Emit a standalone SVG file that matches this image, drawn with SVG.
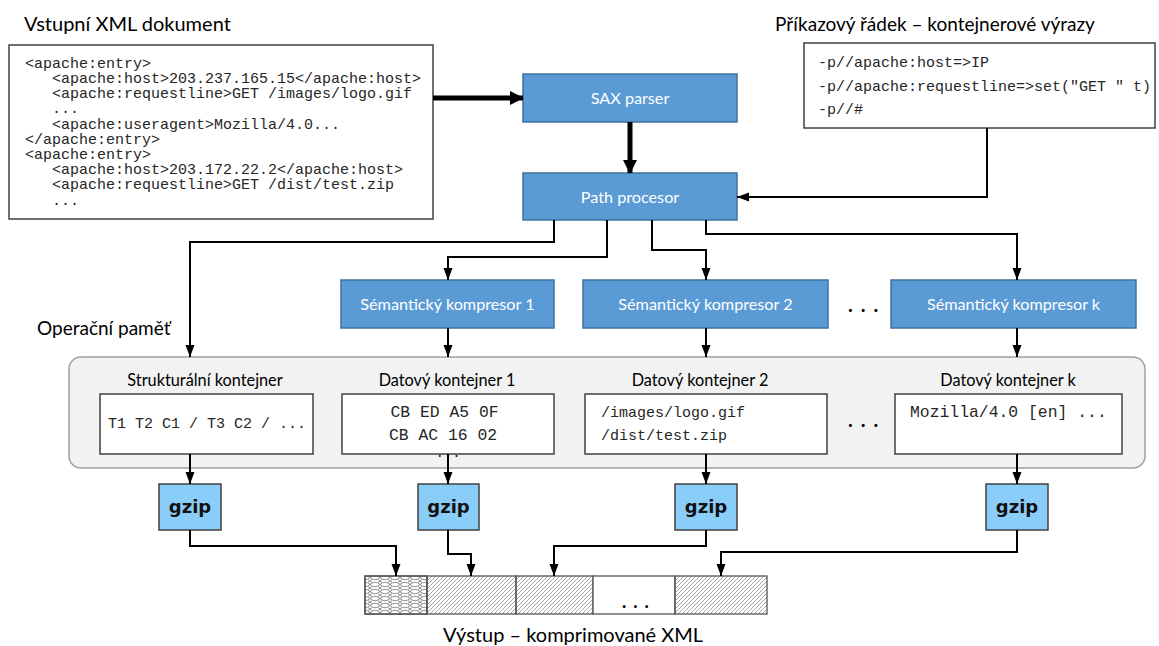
<svg xmlns="http://www.w3.org/2000/svg" width="1159" height="646" viewBox="0 0 1159 646">
<style>
.title{font-family:Lato,"Open Sans",sans-serif;font-size:20px;fill:#000}
.lbl{font-family:Lato,"Open Sans",sans-serif;font-size:16.3px;fill:#000}
.blue rect{fill:#5B9BD5;stroke:#41719C;stroke-width:1.5}
.blue text{font-family:Lato,"Open Sans",sans-serif;font-size:16.2px;fill:#fff;text-anchor:middle}
.mono{font-family:"Liberation Mono","Courier New",monospace;font-size:15px;fill:#262626;white-space:pre}
.box{fill:#fff;stroke:#404040;stroke-width:1.5}
.gz rect{fill:#8ACDF8;stroke:#404040;stroke-width:1.5}
.gz text{font-family:"DejaVu Sans",Verdana,sans-serif;font-weight:bold;font-size:18px;fill:#111;text-anchor:middle}
.c{fill:none;stroke:#000;stroke-width:2}
.ck{fill:none;stroke:#000;stroke-width:5}
.dots{font-family:Lato,sans-serif;font-weight:bold;font-size:20px;fill:#000;letter-spacing:8px}
.cell{stroke:#555;stroke-width:1.3}
</style>
<defs>
<marker id="a" markerUnits="userSpaceOnUse" markerWidth="12" markerHeight="10" refX="12" refY="5" orient="auto">
<path d="M0,0.5 L12,5 L0,9.5 Z" fill="#000"/>
</marker>
<marker id="ak" markerUnits="userSpaceOnUse" markerWidth="14" markerHeight="14" refX="13" refY="7" orient="auto">
<path d="M0,0 L14,7 L0,14 Z" fill="#000"/>
</marker>
<pattern id="hatch" patternUnits="userSpaceOnUse" width="4" height="4">
<path d="M-1,1 l2,-2 M0,4 l4,-4 M3,5 l2,-2" stroke="#808080" stroke-width="0.7"/>
</pattern>
<pattern id="chain" patternUnits="userSpaceOnUse" width="10" height="7">
<path d="M0,3.5 Q5,-1 10,3.5 Q5,8 0,3.5 Z M0,0 L2,1.5 M10,0 L8,1.5 M0,7 L2,5.5 M10,7 L8,5.5" fill="none" stroke="#606060" stroke-width="0.7"/>
</pattern>
</defs>
<rect width="1159" height="646" fill="#fff"/>

<g id="input-xml">
<text class="title" x="24" y="31">Vstupní XML dokument</text>
<rect x="9" y="45" width="424" height="174" fill="#fff" stroke="#404040" stroke-width="1.5"/>
<text class="mono" x="25" y="68">&lt;apache:entry&gt;</text>
<text class="mono" x="25" y="83">   &lt;apache:host&gt;203.237.165.15&lt;/apache:host&gt;</text>
<text class="mono" x="25" y="98">   &lt;apache:requestline&gt;GET /images/logo.gif</text>
<text class="mono" x="25" y="113">   ...</text>
<text class="mono" x="25" y="129">   &lt;apache:useragent&gt;Mozilla/4.0...</text>
<text class="mono" x="25" y="144">&lt;/apache:entry&gt;</text>
<text class="mono" x="25" y="159">&lt;apache:entry&gt;</text>
<text class="mono" x="25" y="174">   &lt;apache:host&gt;203.172.22.2&lt;/apache:host&gt;</text>
<text class="mono" x="25" y="189">   &lt;apache:requestline&gt;GET /dist/test.zip</text>
<text class="mono" x="25" y="205">   ...</text>
</g>

<g id="cmdline">
<text class="title" x="775" y="31" style="font-size:19px">Příkazový řádek – kontejnerové výrazy</text>
<rect x="804" y="43" width="351" height="85" fill="#fff" stroke="#404040" stroke-width="1.5"/>
<text class="mono" x="818" y="67">-p//apache:host=&gt;IP</text>
<text class="mono" x="818" y="91">-p//apache:requestline=&gt;set("GET " t)</text>
<text class="mono" x="818" y="114">-p//#</text>
</g>

<g id="sax" class="blue">
<rect x="523" y="74" width="214" height="48"/>
<text x="630" y="104">SAX parser</text>
</g>
<g id="path" class="blue">
<rect x="523" y="173" width="214" height="47"/>
<text x="630" y="203">Path procesor</text>
</g>

<g id="sem1" class="blue">
<rect x="341" y="280" width="213" height="48"/>
<text x="447.5" y="310">Sémantický kompresor 1</text>
</g>
<g id="sem2" class="blue">
<rect x="583" y="280" width="245" height="48"/>
<text x="705.5" y="310">Sémantický kompresor 2</text>
</g>
<g id="semdots"><text class="dots" x="848" y="312">...</text></g>
<g id="semk" class="blue">
<rect x="891" y="280" width="245" height="48"/>
<text x="1013.5" y="310">Sémantický kompresor k</text>
</g>

<g id="memory">
<text class="title" x="37" y="335" style="font-size:19px">Operační paměť</text>
<rect x="69" y="357" width="1076" height="111" rx="12" fill="#F2F2F2" stroke="#A0A0A0" stroke-width="1.5"/>
</g>
<g id="struct">
<text class="lbl" x="205" y="386" text-anchor="middle">Strukturální kontejner</text>
<rect class="box" x="100" y="394" width="213" height="60"/>
<text class="mono" x="108" y="428">T1 T2 C1 / T3 C2 / ...</text>
</g>
<g id="dk1">
<text class="lbl" x="447" y="386" text-anchor="middle">Datový kontejner 1</text>
<rect class="box" x="342" y="394" width="212" height="60"/>
<text class="mono" x="444.5" y="417" text-anchor="middle" style="font-size:16.4px">CB ED A5 0F</text>
<text class="mono" x="443" y="440" text-anchor="middle" style="font-size:16.4px">CB AC 16 02</text>
<text class="mono" x="448" y="457" text-anchor="middle" style="font-size:14px">...</text>
</g>
<g id="dk2">
<text class="lbl" x="700" y="386" text-anchor="middle">Datový kontejner 2</text>
<rect class="box" x="585" y="394" width="242" height="60"/>
<text class="mono" x="601" y="417">/images/logo.gif</text>
<text class="mono" x="601" y="440">/dist/test.zip</text>
</g>
<g id="dkdots"><text class="dots" x="848" y="427">...</text></g>
<g id="dkk">
<text class="lbl" x="1008" y="386" text-anchor="middle">Datový kontejner k</text>
<rect class="box" x="895" y="394" width="227" height="60"/>
<text class="mono" x="910" y="417" style="font-size:16.4px">Mozilla/4.0 [en] ...</text>
</g>

<g id="gzip1" class="gz"><rect x="159" y="484" width="62" height="46"/><text x="190" y="513">gzip</text></g>
<g id="gzip2" class="gz"><rect x="418" y="484" width="61" height="46"/><text x="448.5" y="513">gzip</text></g>
<g id="gzip3" class="gz"><rect x="675" y="484" width="62" height="46"/><text x="706" y="513">gzip</text></g>
<g id="gzip4" class="gz"><rect x="986" y="484" width="62" height="46"/><text x="1017" y="513">gzip</text></g>

<g id="output">
<rect class="cell" x="365" y="576" width="62" height="38" fill="#fff"/>
<rect class="cell" x="365" y="576" width="62" height="38" fill="url(#chain)"/>
<rect class="cell" x="427" y="576" width="89" height="38" fill="url(#hatch)"/>
<rect class="cell" x="516" y="576" width="77" height="38" fill="url(#hatch)"/>
<rect class="cell" x="593" y="576" width="82" height="38" fill="#fff"/>
<rect class="cell" x="675" y="576" width="92" height="38" fill="url(#hatch)"/>
<text class="dots" x="622" y="608" style="letter-spacing:7px;font-size:18px">...</text>
<text class="title" x="443" y="642">Výstup – komprimované XML</text>
</g>

<g id="connectors">
<path class="ck" d="M433,98 H523" marker-end="url(#ak)"/>
<path class="ck" d="M630,122 V173" marker-end="url(#ak)"/>
<path class="c" d="M987,128 V197 H737" marker-end="url(#a)"/>
<path class="c" d="M554,220 V242 H190 V357" marker-end="url(#a)"/>
<path class="c" d="M607,220 V257 H448 V280" marker-end="url(#a)"/>
<path class="c" d="M652,220 V250 H706 V280" marker-end="url(#a)"/>
<path class="c" d="M706,220 V234 H1017 V280" marker-end="url(#a)"/>
<path class="c" d="M448,328 V357" marker-end="url(#a)"/>
<path class="c" d="M706,328 V357" marker-end="url(#a)"/>
<path class="c" d="M1017,328 V357" marker-end="url(#a)"/>
<path class="c" d="M190,454 V484" marker-end="url(#a)"/>
<path class="c" d="M448,454 V484" marker-end="url(#a)"/>
<path class="c" d="M706,454 V484" marker-end="url(#a)"/>
<path class="c" d="M1017,454 V484" marker-end="url(#a)"/>
<path class="c" d="M190,530 V546 H396 V576" marker-end="url(#a)"/>
<path class="c" d="M448,530 V554 H471 V576" marker-end="url(#a)"/>
<path class="c" d="M706,530 V546 H554 V576" marker-end="url(#a)"/>
<path class="c" d="M1017,530 V552 H721 V576" marker-end="url(#a)"/>
</g>
</svg>
